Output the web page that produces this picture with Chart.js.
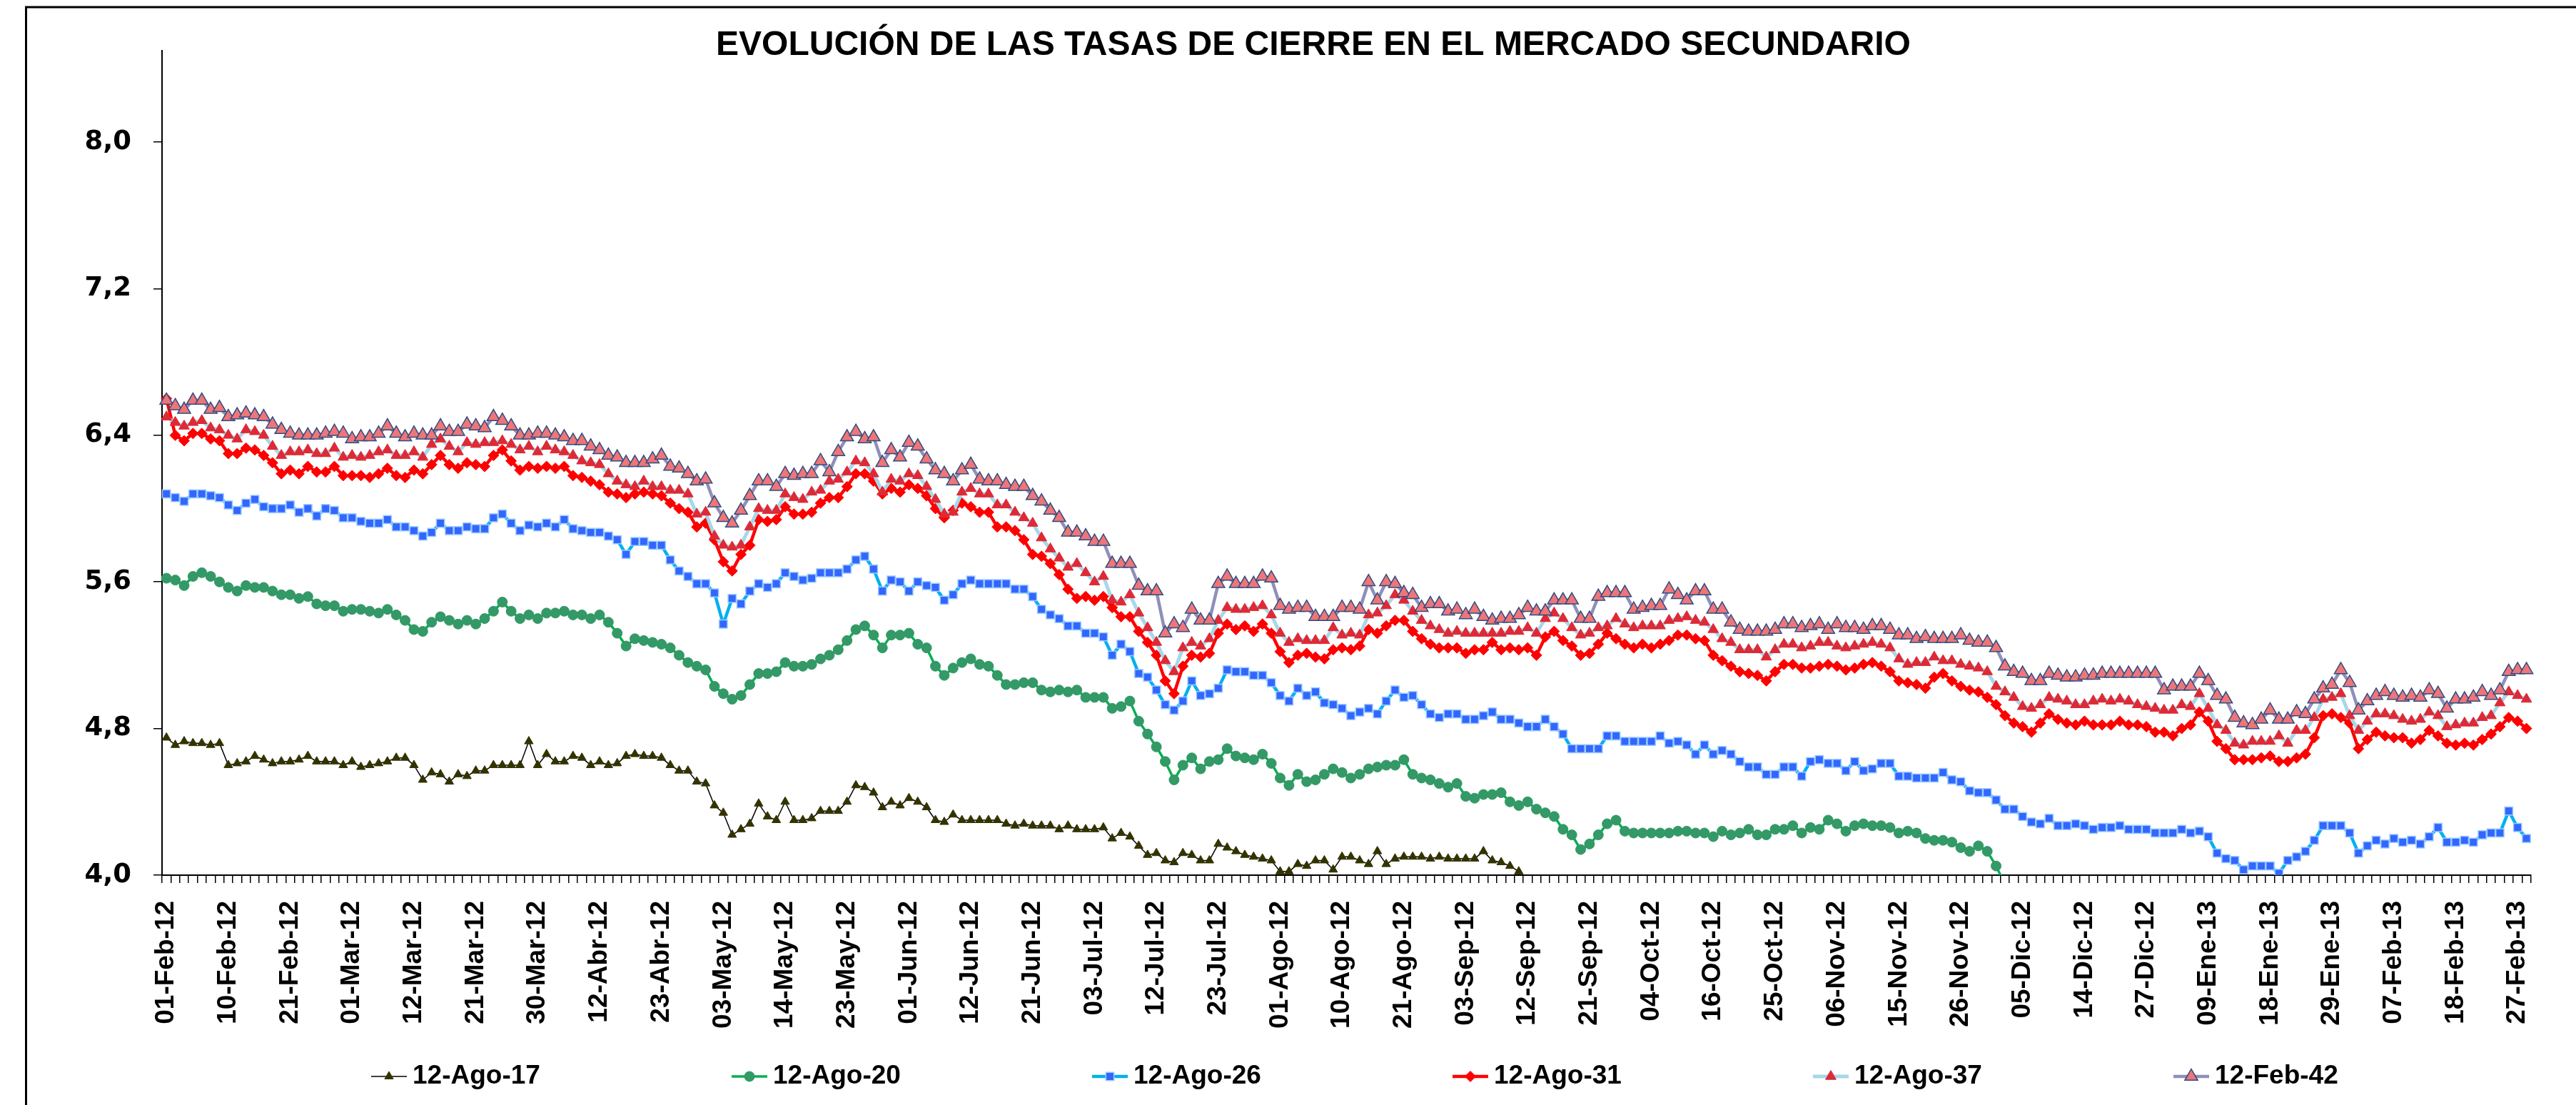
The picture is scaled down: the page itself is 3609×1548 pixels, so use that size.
<!DOCTYPE html>
<html lang="es">
<head>
<meta charset="UTF-8">
<title>Evolución de las tasas de cierre en el mercado secundario</title>
<script src="https://cdn.jsdelivr.net/npm/chart.js"></script>
<style>
  html, body { margin: 0; padding: 0; background: #fff; }
  #wrap { width: 3609px; height: 1548px; }
</style>
</head>
<body>
<div id="wrap"><canvas id="tasasChart" width="3609" height="1548"></canvas></div>
<script>
// etiquetas del eje x: una cada 7 ruedas
const tickLabels = ['01-Feb-12','10-Feb-12','21-Feb-12','01-Mar-12','12-Mar-12','21-Mar-12','30-Mar-12',
  '12-Abr-12','23-Abr-12','03-May-12','14-May-12','23-May-12','01-Jun-12','12-Jun-12','21-Jun-12',
  '03-Jul-12','12-Jul-12','23-Jul-12','01-Ago-12','10-Ago-12','21-Ago-12','03-Sep-12','12-Sep-12',
  '21-Sep-12','04-Oct-12','16-Oct-12','25-Oct-12','06-Nov-12','15-Nov-12','26-Nov-12','05-Dic-12',
  '14-Dic-12','27-Dic-12','09-Ene-13','18-Ene-13','29-Ene-13','07-Feb-13','18-Feb-13','27-Feb-13'];
const tickStep = 7;
const yTicks = [4.0, 4.8, 5.6, 6.4, 7.2, 8.0];

// tasas diarias (%)
const ago17 = [
  4.75,4.71,4.73,4.72,4.72,4.71,4.72,4.60,4.61,4.62,4.65,4.63,4.61,4.62,4.62,4.63,4.65,4.62,4.62,4.62,4.60,4.62,4.59,4.60,4.61,4.62,4.64,4.64,4.60,4.52,4.56,4.55,4.51,4.55,4.54,4.57,4.57,4.60,
  4.60,4.60,4.60,4.73,4.60,4.66,4.62,4.62,4.65,4.64,4.60,4.62,4.60,4.61,4.65,4.66,4.65,4.65,4.64,4.60,4.57,4.57,4.51,4.50,4.38,4.34,4.22,4.25,4.28,4.39,4.32,4.30,4.40,4.30,4.30,4.31,4.35,4.35,
  4.35,4.40,4.49,4.48,4.45,4.37,4.40,4.38,4.42,4.40,4.37,4.30,4.29,4.33,4.30,4.30,4.30,4.30,4.30,4.28,4.27,4.28,4.27,4.27,4.27,4.25,4.27,4.25,4.25,4.25,4.26,4.20,4.23,4.21,4.16,4.11,4.12,4.08,
  4.07,4.12,4.11,4.08,4.08,4.17,4.15,4.13,4.11,4.10,4.09,4.08,4.02,4.02,4.06,4.05,4.08,4.08,4.03,4.10,4.10,4.08,4.06,4.13,4.06,4.09,4.10,4.10,4.10,4.09,4.10,4.09,4.09,4.09,4.09,4.13,4.08,4.07,
  4.05,4.02
];
const ago20 = [
  5.62,5.61,5.58,5.63,5.65,5.63,5.60,5.57,5.55,5.58,5.57,5.57,5.55,5.53,5.53,5.51,5.52,5.48,5.47,5.47,5.44,5.45,5.45,5.44,5.43,5.45,5.42,5.39,5.34,5.33,5.38,5.41,5.39,5.37,5.39,5.37,5.40,5.44,
  5.49,5.44,5.40,5.42,5.40,5.43,5.43,5.44,5.42,5.42,5.40,5.42,5.38,5.32,5.25,5.29,5.28,5.27,5.26,5.24,5.20,5.16,5.14,5.12,5.03,4.99,4.96,4.98,5.04,5.10,5.10,5.11,5.16,5.14,5.14,5.15,5.18,5.20,
  5.23,5.28,5.34,5.36,5.31,5.24,5.31,5.31,5.32,5.26,5.24,5.14,5.09,5.13,5.16,5.18,5.15,5.14,5.09,5.04,5.04,5.05,5.05,5.01,5.00,5.01,5.00,5.01,4.97,4.97,4.97,4.91,4.92,4.95,4.84,4.77,4.70,4.62,
  4.52,4.60,4.64,4.58,4.62,4.63,4.69,4.65,4.64,4.63,4.66,4.61,4.53,4.49,4.55,4.51,4.52,4.55,4.58,4.56,4.53,4.55,4.58,4.59,4.60,4.60,4.63,4.55,4.53,4.52,4.50,4.48,4.50,4.43,4.42,4.44,4.44,4.45,
  4.40,4.38,4.40,4.36,4.34,4.32,4.25,4.22,4.14,4.17,4.22,4.28,4.30,4.24,4.23,4.23,4.23,4.23,4.23,4.24,4.24,4.23,4.23,4.21,4.24,4.22,4.23,4.25,4.22,4.22,4.25,4.25,4.27,4.23,4.26,4.25,4.30,4.28,
  4.24,4.27,4.28,4.27,4.27,4.26,4.23,4.24,4.23,4.20,4.19,4.19,4.18,4.15,4.13,4.16,4.13,4.05,3.95
];
const ago26 = [
  6.08,6.06,6.04,6.08,6.08,6.07,6.06,6.02,5.99,6.03,6.05,6.01,6.00,6.00,6.02,5.98,6.00,5.96,6.00,5.99,5.95,5.95,5.93,5.92,5.92,5.94,5.90,5.90,5.88,5.85,5.87,5.92,5.88,5.88,5.90,5.89,5.89,5.95,
  5.97,5.92,5.88,5.91,5.90,5.92,5.90,5.94,5.89,5.88,5.87,5.87,5.85,5.83,5.75,5.82,5.82,5.80,5.80,5.72,5.66,5.63,5.59,5.59,5.54,5.37,5.51,5.48,5.55,5.59,5.57,5.59,5.65,5.63,5.61,5.62,5.65,5.65,
  5.65,5.67,5.72,5.74,5.67,5.55,5.61,5.60,5.55,5.60,5.58,5.57,5.50,5.53,5.59,5.61,5.59,5.59,5.59,5.59,5.56,5.56,5.52,5.45,5.42,5.40,5.36,5.36,5.32,5.32,5.30,5.20,5.26,5.22,5.10,5.08,5.01,4.93,
  4.90,4.95,5.06,4.98,4.99,5.02,5.12,5.11,5.11,5.09,5.09,5.05,4.98,4.95,5.02,4.98,5.00,4.94,4.93,4.91,4.87,4.89,4.91,4.88,4.95,5.01,4.97,4.98,4.93,4.88,4.86,4.88,4.88,4.85,4.85,4.87,4.89,4.85,
  4.85,4.83,4.81,4.81,4.85,4.81,4.77,4.69,4.69,4.69,4.69,4.76,4.76,4.73,4.73,4.73,4.73,4.76,4.72,4.73,4.71,4.66,4.71,4.66,4.68,4.66,4.62,4.59,4.59,4.55,4.55,4.59,4.59,4.54,4.62,4.63,4.61,4.61,
  4.57,4.62,4.57,4.58,4.61,4.61,4.54,4.54,4.53,4.53,4.53,4.56,4.52,4.51,4.46,4.45,4.45,4.41,4.36,4.36,4.32,4.29,4.28,4.31,4.27,4.27,4.28,4.27,4.25,4.26,4.26,4.27,4.25,4.25,4.25,4.23,4.23,4.23,
  4.25,4.23,4.24,4.21,4.12,4.09,4.08,4.03,4.05,4.05,4.05,4.01,4.08,4.10,4.13,4.19,4.27,4.27,4.27,4.23,4.12,4.16,4.19,4.17,4.20,4.18,4.19,4.17,4.21,4.26,4.18,4.18,4.19,4.18,4.22,4.23,4.23,4.35,4.26,4.20
];
const ago31 = [
  6.60,6.40,6.37,6.41,6.41,6.38,6.37,6.30,6.30,6.33,6.32,6.29,6.25,6.19,6.21,6.19,6.23,6.20,6.20,6.23,6.18,6.18,6.18,6.17,6.19,6.22,6.18,6.17,6.21,6.19,6.24,6.29,6.24,6.22,6.25,6.24,6.23,6.29,
  6.32,6.26,6.21,6.23,6.22,6.23,6.22,6.23,6.18,6.17,6.15,6.13,6.09,6.08,6.06,6.08,6.09,6.08,6.07,6.03,6.00,5.98,5.90,5.92,5.83,5.71,5.66,5.75,5.80,5.94,5.93,5.94,6.01,5.97,5.97,5.98,6.03,6.06,
  6.06,6.12,6.19,6.19,6.15,6.08,6.11,6.09,6.13,6.11,6.07,6.00,5.95,5.99,6.03,6.01,5.98,5.98,5.90,5.90,5.88,5.83,5.75,5.74,5.70,5.64,5.56,5.51,5.52,5.50,5.52,5.46,5.41,5.41,5.33,5.27,5.20,5.06,
  4.99,5.14,5.20,5.19,5.21,5.32,5.37,5.34,5.36,5.33,5.37,5.32,5.22,5.16,5.20,5.21,5.19,5.18,5.23,5.24,5.23,5.25,5.34,5.32,5.36,5.39,5.39,5.33,5.29,5.26,5.24,5.24,5.24,5.21,5.23,5.23,5.27,5.23,
  5.24,5.23,5.24,5.20,5.30,5.33,5.28,5.25,5.20,5.21,5.26,5.32,5.29,5.26,5.24,5.26,5.24,5.26,5.28,5.31,5.31,5.29,5.28,5.20,5.17,5.14,5.11,5.10,5.09,5.06,5.11,5.15,5.15,5.13,5.13,5.14,5.15,5.14,
  5.12,5.13,5.15,5.16,5.14,5.11,5.06,5.05,5.04,5.02,5.08,5.10,5.06,5.03,5.01,5.00,4.97,4.93,4.87,4.83,4.81,4.78,4.83,4.88,4.85,4.83,4.82,4.84,4.82,4.82,4.82,4.84,4.82,4.82,4.81,4.78,4.78,4.76,
  4.80,4.82,4.89,4.84,4.73,4.69,4.63,4.63,4.63,4.64,4.65,4.62,4.62,4.64,4.66,4.75,4.87,4.88,4.86,4.83,4.69,4.74,4.78,4.76,4.75,4.75,4.72,4.74,4.79,4.76,4.72,4.71,4.72,4.71,4.74,4.77,4.81,4.86,4.84,4.80
];
const ago37 = [
  6.50,6.47,6.45,6.47,6.48,6.44,6.43,6.40,6.38,6.43,6.42,6.40,6.34,6.29,6.31,6.31,6.32,6.30,6.30,6.33,6.28,6.29,6.28,6.29,6.31,6.32,6.29,6.29,6.31,6.28,6.35,6.38,6.34,6.31,6.36,6.35,6.36,6.36,
  6.37,6.35,6.32,6.34,6.31,6.34,6.32,6.31,6.29,6.26,6.25,6.24,6.19,6.15,6.13,6.12,6.15,6.12,6.12,6.10,6.10,6.08,5.97,5.98,5.85,5.80,5.79,5.80,5.90,6.00,5.99,5.99,6.08,6.06,6.05,6.09,6.10,6.15,
  6.16,6.20,6.26,6.25,6.19,6.09,6.16,6.15,6.19,6.18,6.12,6.05,5.97,5.98,6.09,6.11,6.08,6.08,6.02,6.02,5.98,5.95,5.92,5.84,5.78,5.73,5.68,5.70,5.65,5.60,5.63,5.50,5.49,5.53,5.43,5.35,5.27,5.17,
  5.11,5.24,5.27,5.25,5.29,5.39,5.46,5.45,5.45,5.46,5.47,5.42,5.32,5.27,5.29,5.28,5.28,5.28,5.35,5.31,5.32,5.31,5.42,5.43,5.47,5.53,5.50,5.44,5.39,5.36,5.34,5.32,5.33,5.32,5.32,5.32,5.32,5.32,
  5.33,5.33,5.35,5.32,5.40,5.43,5.40,5.35,5.31,5.32,5.35,5.36,5.40,5.37,5.35,5.36,5.36,5.36,5.39,5.40,5.41,5.39,5.38,5.34,5.29,5.27,5.23,5.23,5.23,5.19,5.23,5.26,5.26,5.24,5.25,5.27,5.27,5.25,
  5.24,5.25,5.26,5.27,5.26,5.24,5.18,5.15,5.16,5.16,5.19,5.17,5.17,5.15,5.14,5.13,5.11,5.03,5.00,4.97,4.92,4.91,4.93,4.97,4.96,4.95,4.93,4.93,4.95,4.96,4.95,4.96,4.95,4.93,4.92,4.91,4.90,4.90,
  4.93,4.92,4.99,4.91,4.82,4.79,4.72,4.71,4.73,4.73,4.73,4.76,4.72,4.79,4.79,4.86,4.96,4.97,4.99,4.87,4.79,4.84,4.88,4.88,4.87,4.85,4.84,4.85,4.89,4.87,4.81,4.82,4.83,4.83,4.86,4.87,4.94,5.00,4.98,4.96
];
const feb42 = [
  6.59,6.56,6.54,6.59,6.59,6.54,6.55,6.50,6.51,6.52,6.51,6.50,6.46,6.43,6.41,6.40,6.40,6.40,6.41,6.42,6.41,6.38,6.39,6.39,6.41,6.45,6.41,6.39,6.41,6.40,6.40,6.45,6.42,6.42,6.46,6.45,6.44,6.50,
  6.48,6.45,6.40,6.40,6.41,6.41,6.40,6.39,6.37,6.37,6.34,6.32,6.29,6.28,6.25,6.25,6.25,6.27,6.29,6.23,6.22,6.19,6.15,6.16,6.03,5.95,5.92,5.99,6.07,6.15,6.15,6.12,6.19,6.18,6.19,6.19,6.26,6.20,
  6.31,6.39,6.42,6.38,6.39,6.25,6.32,6.28,6.36,6.34,6.27,6.21,6.19,6.15,6.21,6.24,6.16,6.15,6.15,6.13,6.12,6.12,6.07,6.04,5.99,5.95,5.87,5.87,5.85,5.82,5.82,5.70,5.70,5.70,5.58,5.55,5.55,5.32,
  5.37,5.35,5.45,5.39,5.39,5.59,5.63,5.59,5.59,5.59,5.63,5.62,5.47,5.45,5.46,5.46,5.41,5.41,5.41,5.46,5.46,5.45,5.60,5.50,5.60,5.59,5.54,5.53,5.46,5.48,5.48,5.44,5.45,5.42,5.45,5.41,5.39,5.40,
  5.40,5.42,5.46,5.44,5.44,5.50,5.50,5.50,5.40,5.40,5.52,5.54,5.54,5.54,5.45,5.46,5.47,5.47,5.56,5.53,5.50,5.55,5.55,5.45,5.45,5.38,5.34,5.33,5.33,5.33,5.34,5.37,5.37,5.35,5.36,5.37,5.34,5.37,
  5.35,5.35,5.34,5.36,5.36,5.34,5.31,5.31,5.29,5.30,5.29,5.29,5.29,5.31,5.28,5.27,5.27,5.24,5.14,5.11,5.10,5.06,5.06,5.10,5.09,5.08,5.08,5.09,5.09,5.10,5.10,5.10,5.10,5.10,5.10,5.10,5.01,5.03,
  5.03,5.03,5.10,5.06,4.98,4.96,4.86,4.83,4.82,4.85,4.90,4.85,4.85,4.89,4.88,4.96,5.02,5.04,5.12,5.05,4.90,4.95,4.98,5.00,4.98,4.97,4.98,4.97,5.01,4.99,4.91,4.96,4.96,4.97,5.00,4.98,5.01,5.11,5.12,5.12
];

const FONT = '"Liberation Sans", Arial, sans-serif';

// una categoria por rueda; solo cada 7a lleva texto
const nDays = feb42.length;
const labels = [];
for (let i = 0; i < nDays; i++) {
  labels.push(i % tickStep === 0 ? (tickLabels[i / tickStep] || '') : '');
}

function serie(label, data, line, lineW, style, radius, fill, edge, edgeW, order) {
  return {
    label: label, data: data, order: order,
    borderColor: line, borderWidth: lineW, borderJoinStyle: 'round',
    pointStyle: style, pointRadius: radius, pointHoverRadius: radius,
    pointBackgroundColor: fill, pointBorderColor: edge, pointBorderWidth: edgeW,
    tension: 0, spanGaps: false
  };
}

// marco exterior y leyenda al estilo Excel
const marco = {
  id: 'marco',
  beforeDraw(chart) {
    const c = chart.ctx;
    c.save();
    c.fillStyle = '#fff';
    c.fillRect(0, 0, chart.width, chart.height);
    c.restore();
  },
  afterDraw(chart) {
    const c = chart.ctx;
    c.save();
    c.strokeStyle = '#000';
    c.lineWidth = 3;
    c.strokeRect(36.5, 10, chart.width + 100, chart.height + 100);

    const y = 1508, x0 = 520, step = 505;
    chart.data.datasets.forEach((ds, i) => {
      const x = x0 + i * step;
      c.strokeStyle = ds.borderColor;
      c.lineWidth = ds.borderWidth;
      c.beginPath();
      c.moveTo(x, y);
      c.lineTo(x + 50, y);
      c.stroke();
      c.fillStyle = ds.pointBackgroundColor;
      c.strokeStyle = ds.pointBorderColor;
      c.lineWidth = ds.pointBorderWidth;
      Chart.helpers.drawPoint(c, {
        pointStyle: ds.pointStyle, radius: ds.pointRadius, rotation: 0, borderWidth: ds.pointBorderWidth
      }, x + 25, y);
      c.fillStyle = '#000';
      c.font = 'bold 37px ' + FONT;
      c.textAlign = 'left';
      c.textBaseline = 'middle';
      c.fillText(ds.label, x + 58, y);
    });
    c.restore();
  }
};

new Chart(document.getElementById('tasasChart'), {
  type: 'line',
  data: {
    labels: labels,
    datasets: [
      serie('12-Ago-17', ago17, '#000000', 1.5, 'triangle', 7, '#333300', '#333300', 1, 5),
      serie('12-Ago-20', ago20, '#00B050', 3.5, 'circle', 7, '#339966', '#339966', 1, 4),
      serie('12-Ago-26', ago26, '#00B0F0', 4.5, 'rect', 8, '#3366FF', '#99CCFF', 1.5, 3),
      serie('12-Ago-31', ago31, '#FF0000', 4.5, 'rectRot', 7.5, '#FF0000', '#FF0000', 1, 2),
      serie('12-Ago-37', ago37, '#A6D8EA', 5, 'triangle', 8.5, '#DD2A36', '#DD2A36', 1, 1),
      serie('12-Feb-42', feb42, '#8F8FBA', 4.5, 'triangle', 10.5, '#EE7578', '#2F4D80', 1.5, 0)
    ]
  },
  options: {
    responsive: false,
    devicePixelRatio: 1,
    animation: false,
    events: [],
    layout: { padding: { left: 103, right: 32, top: 0, bottom: 0 } },
    plugins: {
      legend: { display: false },
      tooltip: { enabled: false },
      title: {
        display: true,
        text: 'EVOLUCIÓN DE LAS TASAS DE CIERRE EN EL MERCADO SECUNDARIO',
        color: '#000',
        font: { family: FONT, weight: 'bold', size: 48, lineHeight: 1.2 },
        padding: { top: 35, bottom: -22 }
      }
    },
    scales: {
      x: {
        type: 'category',
        offset: true,
        grid: { offset: true, drawOnChartArea: false, drawTicks: true, tickLength: 11, color: '#000', lineWidth: 1.5 },
        border: { display: true, color: '#000', width: 2 },
        ticks: {
          autoSkip: false, minRotation: 90, maxRotation: 90, padding: 25, color: '#000',
          font: { family: FONT, weight: 'bold', size: 37 }
        },
        afterFit(scale) { scale.height = 322; }
      },
      y: {
        min: 4, max: 8.5,
        afterBuildTicks(scale) { scale.ticks = yTicks.map(v => ({ value: v })); },
        grid: { drawOnChartArea: false, drawTicks: true, tickLength: 12, color: '#000', lineWidth: 1.5 },
        border: { display: true, color: '#000', width: 2 },
        ticks: {
          padding: 31, color: '#000',
          font: { family: '"DejaVu Sans", sans-serif', weight: 'bold', size: 37 },
          callback: v => v.toFixed(1).replace('.', ',')
        },
        afterFit(scale) { scale.width = 124; }
      }
    }
  },
  plugins: [marco]
});
</script>
</body>
</html>
